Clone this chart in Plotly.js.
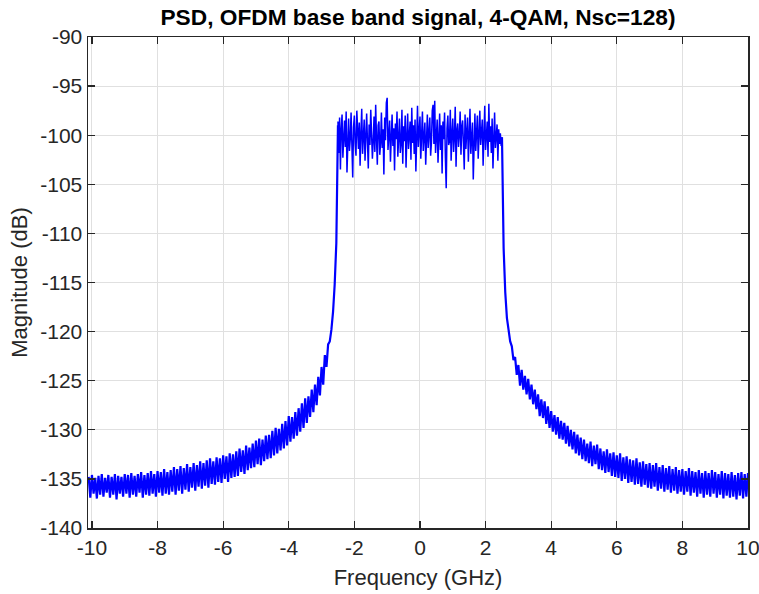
<!DOCTYPE html>
<html>
<head>
<meta charset="utf-8">
<script src="https://cdn.plot.ly/plotly-3.0.1.min.js"></script>
<style>html,body{margin:0;padding:0;background:#fff;}#chart{width:759px;height:594px;}</style>
</head>
<body>
<div id="chart"></div>
<script>
// PSD of OFDM baseband signal (dB).
// Left skirt: starts at -10.1 GHz, step 0.05 GHz, ends at -2.5 GHz
const leftStartGHz = -10.1;
const skirtStepGHz = 0.05;
const leftSkirtDb = [
  -134.8, -136.9, -134.6, -136.5, -134.9, -137.0, -134.7, -136.6, -134.5, -136.8,
  -134.9, -136.4, -134.6, -136.9, -134.8, -136.6, -134.5, -137.1, -134.7, -136.5,
  -134.8, -136.8, -134.5, -136.5, -134.6, -136.9, -134.4, -136.6, -134.7, -136.8,
  -134.5, -136.4, -134.3, -136.9, -134.6, -136.6, -134.4, -136.7, -134.2, -136.5,
  -134.5, -136.8, -134.2, -136.4, -134.3, -136.7, -134.0, -136.5, -134.3, -136.6,
  -134.1, -136.3, -133.8, -136.6, -134.0, -136.2, -133.7, -136.5, -133.9, -136.1,
  -133.5, -136.3, -133.8, -135.9, -133.4, -136.2, -133.6, -135.8, -133.2, -136.0,
  -133.4, -135.7, -133.1, -135.9, -132.9, -135.5, -133.2, -135.6, -132.8, -135.3,
  -132.9, -135.4, -132.6, -135.0, -132.7, -135.3, -132.4, -134.9, -132.5, -134.8,
  -132.2, -134.7, -131.9, -134.3, -132.1, -134.5, -131.6, -134.1, -131.8, -133.9,
  -131.4, -133.8, -131.1, -133.5, -130.9, -133.6, -131.0, -133.2, -130.6, -133.0,
  -130.5, -132.9, -130.1, -132.6, -129.8, -132.4, -129.9, -132.1, -129.4, -131.9,
  -129.1, -131.6, -128.6, -131.2, -128.7, -130.9, -128.2, -130.6, -127.8, -130.2,
  -127.3, -129.8, -126.8, -129.3, -126.6, -128.7, -125.9, -128.2, -125.4, -127.5,
  -124.6, -126.5, -123.6, -125.4, -122.4, -123.6, -121.3, -121.0, -119.8, -118.0,
  -115.2, -111.0, -99.0
];
// In-band part: starts at -2.5 GHz, step 0.025 GHz, ends at 2.5 GHz
const bandStartGHz = -2.5;
const bandStepGHz = 0.025;
const inBandDb = [
  -98.6, -101.8, -98.2, -103.5, -99.4, -97.9, -102.3, -100.1, -98.5, -101.2,
  -97.6, -103.8, -99.9, -98.3, -101.6, -100.4, -97.7, -102.8, -104.3, -99.2,
  -98.0, -100.9, -102.1, -97.5, -99.6, -101.4, -98.7, -103.1, -99.8, -97.3,
  -101.9, -100.2, -98.4, -102.6, -99.1, -97.8, -100.7, -103.4, -98.9, -101.0,
  -97.4, -99.5, -102.4, -100.6, -98.1, -101.7, -96.9, -100.3, -103.0, -99.0,
  -98.6, -102.0, -100.8, -97.7, -101.3, -99.4, -104.0, -98.2, -100.5, -96.7,
  -96.2, -101.5, -99.7, -98.5, -102.7, -100.0, -97.9, -101.1, -99.3, -103.6,
  -98.8, -100.4, -97.6, -102.2, -99.6, -98.3, -101.8, -100.9, -97.4, -102.9,
  -99.1, -100.6, -98.0, -103.3, -100.2, -97.8, -101.4, -99.5, -98.6, -102.5,
  -97.2, -100.8, -99.0, -101.9, -98.4, -103.7, -100.3, -97.0, -101.2, -99.7,
  -98.1, -102.4, -100.0, -97.6, -101.6, -99.2, -98.7, -103.0, -100.5, -97.9,
  -101.3, -99.4, -98.2, -102.1, -100.7, -97.5, -96.9, -100.9, -96.5, -101.8,
  -99.6, -98.4, -102.8, -100.1, -97.8, -101.5, -99.0, -103.9, -98.6, -100.4,
  -97.7, -102.3, -105.4, -99.3, -98.0, -101.0, -100.6, -97.4, -102.6, -99.8,
  -98.3, -101.7, -100.2, -97.1, -103.2, -99.5, -98.8, -101.2, -100.0, -97.6,
  -102.0, -99.1, -98.5, -100.8, -103.5, -97.9, -101.4, -99.7, -98.2, -102.7,
  -100.3, -97.3, -101.9, -99.4, -98.7, -104.5, -100.1, -97.8, -101.6, -99.2,
  -98.0, -102.4, -100.6, -97.5, -101.0, -99.6, -98.4, -103.1, -100.2, -97.0,
  -101.5, -99.8, -98.6, -102.2, -96.8, -100.7, -99.1, -101.8, -98.3, -103.4,
  -99.5, -97.7, -101.3, -100.0, -98.9, -102.6, -99.4, -100.9, -99.8, -101.1,
  -100.2
];
// Right skirt: starts at 2.5 GHz, step 0.05 GHz, ends at 10 GHz
const rightStartGHz = 2.5;
const rightSkirtDb = [
  -100.2, -111.5, -116.0, -118.6, -119.8, -121.0, -121.5, -122.9, -122.6, -124.4,
  -123.4, -125.5, -123.9, -125.9, -124.5, -126.4, -124.8, -126.9, -125.4, -127.4,
  -125.9, -127.9, -126.4, -128.6, -126.9, -128.8, -127.1, -129.4, -127.6, -129.8,
  -128.1, -130.2, -128.5, -130.5, -128.7, -130.9, -129.1, -131.0, -129.3, -131.4,
  -129.6, -131.7, -130.0, -132.0, -130.2, -132.4, -130.5, -132.6, -130.8, -133.0,
  -131.0, -133.2, -131.4, -133.4, -131.2, -133.7, -131.6, -133.5, -131.5, -134.0,
  -131.9, -134.1, -132.2, -134.4, -132.0, -134.3, -132.4, -134.7, -132.3, -134.8,
  -132.6, -134.9, -132.4, -135.2, -132.8, -135.0, -132.7, -135.4, -133.0, -135.3,
  -133.1, -135.6, -132.9, -135.5, -133.3, -135.8, -133.2, -135.6, -133.5, -135.9,
  -133.4, -136.0, -133.6, -135.8, -133.4, -136.2, -133.8, -136.0, -133.6, -136.3,
  -133.9, -136.1, -133.7, -136.4, -134.0, -136.2, -133.8, -136.5, -134.1, -136.3,
  -134.0, -136.6, -134.2, -136.3, -133.9, -136.7, -134.2, -136.4, -134.3, -136.8,
  -134.1, -136.5, -134.4, -136.9, -134.2, -136.6, -134.4, -136.8, -134.1, -136.5,
  -134.3, -136.9, -134.5, -136.6, -134.2, -137.0, -134.4, -136.7, -134.5, -136.9,
  -134.3, -136.8, -134.6, -137.1, -134.4, -136.7, -134.3, -137.0, -134.5, -136.8,
  -134.4
];
const xTicks = [-10, -8, -6, -4, -2, 0, 2, 4, 6, 8, 10];
const yTicks = [-140, -135, -130, -125, -120, -115, -110, -105, -100, -95, -90];

const font = 'Liberation Sans, Arial, Helvetica, sans-serif';
const traces = [
  {type: 'scatter', mode: 'lines', x0: leftStartGHz, dx: skirtStepGHz, y: leftSkirtDb, line: {color: '#0000ff', width: 2.2}, hoverinfo: 'skip'},
  {type: 'scatter', mode: 'lines', x0: bandStartGHz, dx: bandStepGHz, y: inBandDb, line: {color: '#0000ff', width: 1.5}, hoverinfo: 'skip'},
  {type: 'scatter', mode: 'lines', x0: rightStartGHz, dx: skirtStepGHz, y: rightSkirtDb, line: {color: '#0000ff', width: 2.2}, hoverinfo: 'skip'}
];
const axisCommon = {
  showline: true, linecolor: '#262626', linewidth: 1.5, mirror: 'allticks',
  ticks: 'inside', ticklen: 7, tickwidth: 1.3, tickcolor: '#262626',
  showgrid: true, gridcolor: '#e0e0e0', gridwidth: 1, zeroline: false,
  ticklabeloverflow: 'allow',
  tickfont: {family: font, size: 21, color: '#262626'}
};
const layout = {
  width: 759, height: 594,
  margin: {l: 88, r: 11, t: 37, b: 66},
  paper_bgcolor: '#ffffff', plot_bgcolor: '#ffffff',
  showlegend: false,
  title: {text: '<b>PSD, OFDM base band signal, 4-QAM, Nsc=128)</b>', x: 0.5, xref: 'paper', y: 0.971, yanchor: 'middle',
          font: {family: font, size: 22.7, color: '#000000'}},
  xaxis: Object.assign({}, axisCommon, {
    range: [-10.12, 10], tickmode: 'array', tickvals: xTicks, ticktext: xTicks.map(String),
    title: {text: 'Frequency (GHz)', font: {family: font, size: 22, color: '#262626'}, standoff: 12}
  }),
  yaxis: Object.assign({}, axisCommon, {
    range: [-140, -90], tickmode: 'array', tickvals: yTicks, ticktext: yTicks.map(String),
    title: {text: 'Magnitude (dB)', font: {family: font, size: 22, color: '#262626'}, standoff: 6}
  })
};
Plotly.newPlot('chart', traces, layout, {displayModeBar: false, staticPlot: true});
</script>
</body>
</html>
